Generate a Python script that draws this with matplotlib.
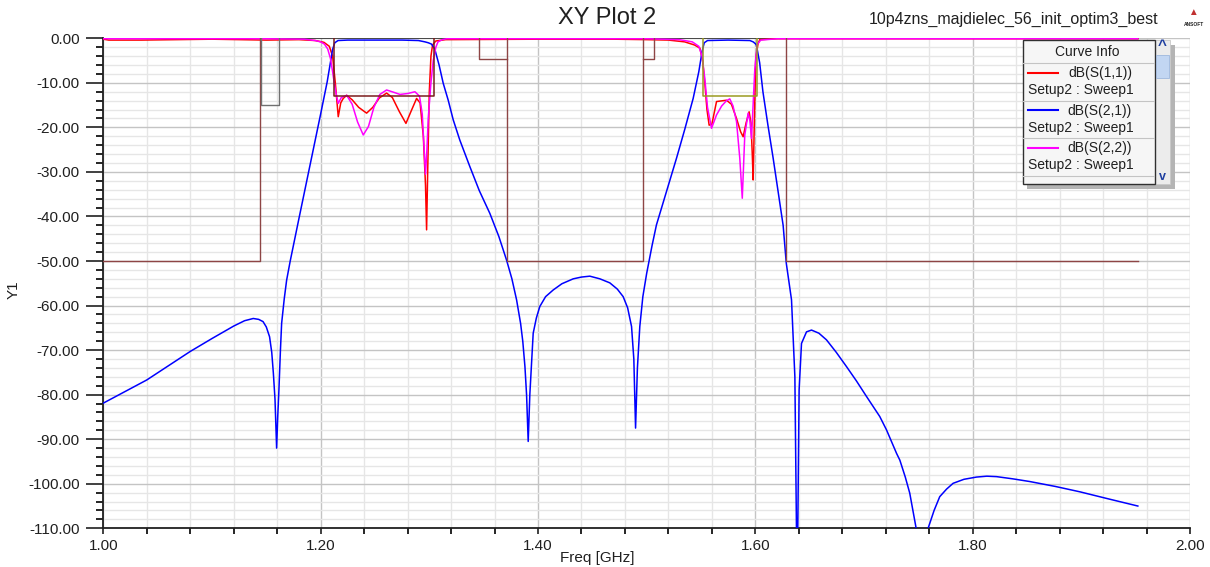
import matplotlib
matplotlib.use("Agg")
import matplotlib.pyplot as plt
from matplotlib.patches import Rectangle
from matplotlib.lines import Line2D
from matplotlib.ticker import MultipleLocator, FormatStrFormatter

plt.rcParams['font.family'] = ['Liberation Sans', 'DejaVu Sans']

# ---- data (freq in GHz, level in dB) ----
s21_f = [1.000, 1.020, 1.040, 1.060, 1.080, 1.100, 1.120, 1.130, 1.138, 1.143,
         1.147, 1.150, 1.153, 1.155, 1.1565, 1.158, 1.1595, 1.1605, 1.1616, 1.163,
         1.1641, 1.1665, 1.1687, 1.172, 1.180, 1.190, 1.200, 1.206, 1.209, 1.211,
         1.213, 1.216, 1.225, 1.250, 1.275, 1.290, 1.296, 1.299, 1.302, 1.305,
         1.309, 1.3128, 1.3174, 1.322, 1.328, 1.3373, 1.346, 1.3557, 1.364, 1.3711,
         1.376, 1.3803, 1.384, 1.386, 1.388, 1.3895, 1.391, 1.3925, 1.3945, 1.3956,
         1.3985, 1.4017, 1.407, 1.414, 1.422, 1.4324, 1.440, 1.4477, 1.457, 1.4661,
         1.473, 1.4784, 1.4825, 1.4861, 1.4882, 1.4898, 1.4915, 1.4937, 1.4965, 1.500,
         1.505, 1.509, 1.5122, 1.518, 1.5275, 1.535, 1.5428, 1.548, 1.551, 1.553,
         1.556, 1.575, 1.595, 1.598, 1.600, 1.601, 1.604, 1.607, 1.6116, 1.6164,
         1.621, 1.6256, 1.6285, 1.6333, 1.6364, 1.6385, 1.6403, 1.6425, 1.6471, 1.6517,
         1.6585, 1.6655, 1.6745, 1.6839, 1.693, 1.7023, 1.7145, 1.7207, 1.730, 1.733,
         1.738, 1.7421, 1.7477, 1.7535, 1.759, 1.7645, 1.7697, 1.776, 1.782, 1.792,
         1.8035, 1.813, 1.822, 1.837, 1.8525, 1.876, 1.8985, 1.925, 1.952]
s21_db = [-81.9, -79.3, -76.7, -73.5, -70.3, -67.4, -64.6, -63.4, -62.9, -63.1,
          -63.6, -64.8, -67.0, -70.5, -75.2, -81.0, -92.0, -85.0, -79.0, -70.0,
          -64.0, -58.5, -54.3, -50.0, -40.5, -28.8, -17.0, -9.8, -5.5, -2.5,
          -1.0, -0.5, -0.4, -0.4, -0.4, -0.5, -0.8, -1.0, -1.3, -2.4,
          -6.0, -10.1, -13.9, -18.3, -22.8, -28.8, -34.2, -39.3, -44.5, -49.8,
          -54.0, -58.7, -64.0, -68.0, -73.7, -80.0, -90.5, -80.0, -71.0, -66.2,
          -62.8, -60.2, -58.0, -56.5, -55.1, -54.0, -53.6, -53.4, -54.0, -54.9,
          -56.3, -58.0, -60.5, -64.7, -72.0, -87.5, -74.0, -64.7, -58.0, -52.8,
          -46.5, -41.9, -39.3, -34.6, -26.9, -20.5, -13.5, -7.5, -3.0, -1.0,
          -0.5, -0.4, -0.5, -0.8, -1.2, -1.5, -5.5, -12.0, -19.5, -26.9,
          -34.5, -42.0, -50.5, -58.7, -76.0, -125.0, -78.9, -68.5, -65.9, -65.5,
          -66.2, -67.7, -70.5, -73.7, -76.9, -80.4, -84.9, -87.9, -93.2, -94.7,
          -98.5, -102.1, -109.6, -125.0, -110.0, -106.0, -102.9, -101.2, -99.9, -99.0,
          -98.5, -98.3, -98.4, -98.9, -99.5, -100.6, -101.8, -103.4, -105.0]

s11_f = [1.000, 1.005, 1.035, 1.100, 1.150, 1.180, 1.195, 1.203, 1.208, 1.211,
         1.2135, 1.2162, 1.2185, 1.2208, 1.2239, 1.229, 1.235, 1.2423, 1.248, 1.254,
         1.2607, 1.266, 1.2725, 1.2785, 1.283, 1.2883, 1.2915, 1.2945, 1.2965, 1.2975,
         1.2985, 1.300, 1.3015, 1.303, 1.306, 1.315, 1.400, 1.470, 1.500, 1.520,
         1.535, 1.544, 1.549, 1.5515, 1.5535, 1.5555, 1.5575, 1.560, 1.5643, 1.5735,
         1.578, 1.5827, 1.5865, 1.5888, 1.5915, 1.5943, 1.596, 1.5972, 1.598, 1.599,
         1.6004, 1.6025, 1.6041, 1.620, 1.952]
s11_db = [-0.2, -0.4, -0.4, -0.2, -0.4, -0.3, -0.5, -0.9, -1.8, -4.0,
          -10.0, -17.6, -14.5, -13.5, -12.8, -13.8, -15.5, -16.8, -15.5, -13.4,
          -12.3, -13.3, -16.5, -19.1, -16.5, -13.5, -14.5, -22.0, -33.0, -43.0,
          -30.0, -12.0, -4.0, -1.5, -0.6, -0.3, -0.2, -0.2, -0.3, -0.4,
          -0.8, -1.5, -2.2, -5.0, -10.0, -16.0, -19.5, -19.3, -14.2, -13.9,
          -14.8, -18.0, -21.0, -22.1, -19.0, -16.5, -19.0, -26.0, -31.8, -20.0,
          -4.5, -1.2, -0.3, -0.1, -0.1]

s22_f = [1.000, 1.150, 1.185, 1.195, 1.200, 1.2035, 1.2065, 1.209, 1.211, 1.213,
         1.2147, 1.2162, 1.219, 1.224, 1.229, 1.234, 1.2392, 1.244, 1.249, 1.2545,
         1.2607, 1.267, 1.273, 1.280, 1.2868, 1.291, 1.2935, 1.2955, 1.2965, 1.2978,
         1.299, 1.3015, 1.3036, 1.306, 1.308, 1.312, 1.316, 1.500, 1.530, 1.542,
         1.548, 1.551, 1.5535, 1.556, 1.5597, 1.562, 1.5643, 1.569, 1.5735, 1.5765,
         1.5795, 1.5827, 1.5857, 1.588, 1.5903, 1.5934, 1.595, 1.5965, 1.5995, 1.6017,
         1.605, 1.620, 1.952]
s22_db = [-0.1, -0.1, -0.2, -0.5, -0.8, -1.3, -2.4, -4.5, -7.5, -10.8,
          -13.0, -14.6, -13.3, -12.8, -14.8, -18.8, -21.7, -19.8, -15.5, -12.6,
          -11.6, -12.1, -12.6, -12.4, -12.0, -13.0, -17.0, -26.0, -30.5, -25.0,
          -18.0, -10.0, -5.0, -2.0, -0.8, -0.3, -0.1, -0.1, -0.3, -0.8,
          -1.8, -4.0, -9.0, -15.5, -20.2, -18.7, -17.2, -15.2, -14.0, -13.6,
          -15.2, -18.7, -26.9, -35.9, -21.7, -16.8, -18.5, -22.5, -7.0, -1.4,
          -0.4, -0.1, -0.1]

# spec masks
mask_left_f = [1.000, 1.1444, 1.1444]
mask_left_db = [-50, -50, 0]
mask_mid_f = [1.3715, 1.3715, 1.4965, 1.4965]
mask_mid_db = [0, -50, -50, 0]
mask_right_f = [1.628, 1.628, 1.952]
mask_right_db = [0, -50, -50]
notch_a_f = [1.1455, 1.1455, 1.1615, 1.1615]
notch_a_db = [0, -15, -15, 0]
notch_b_f = [1.3455, 1.3455, 1.3715]
notch_b_db = [0, -4.6, -4.6]
notch_c_f = [1.4965, 1.5065, 1.5065]
notch_c_db = [-4.6, -4.6, 0]
pass1_f = [1.2125, 1.2125, 1.3045, 1.3045]
pass1_db = [0, -13, -13, 0]
pass2_f = [1.552, 1.552, 1.602, 1.602]
pass2_db = [0, -13, -13, 0]
top_f = [1.035, 1.952]
top_db = [0, 0]

curve_names = ['dB(S(1,1))', 'dB(S(2,1))', 'dB(S(2,2))']
curve_colors = ['#ff0000', '#0000ff', '#ff00ff']

W, H = 1210, 567
fig = plt.figure(figsize=(W / 100, H / 100), dpi=100)
ax = fig.add_axes([103.3 / W, 1 - 528.3 / H, (1190 - 103.3) / W, (528.3 - 38.3) / H])


def px(x, y):
    return x / W, 1 - y / H


# grid
ax.set_xlim(1.0, 2.0)
ax.set_ylim(-110, 0)
ax.xaxis.set_major_locator(MultipleLocator(0.2))
ax.xaxis.set_minor_locator(MultipleLocator(0.04))
ax.yaxis.set_major_locator(MultipleLocator(10))
ax.yaxis.set_minor_locator(MultipleLocator(2))
ax.xaxis.set_major_formatter(FormatStrFormatter('%.2f'))
ax.yaxis.set_major_formatter(FormatStrFormatter('%.2f'))
ax.grid(which='major', color='#c4c4c4', lw=1.0, zorder=0)
ax.grid(which='minor', color='#e6e6e6', lw=1.0, zorder=0)
ax.set_axisbelow(True)

for s in ['top', 'right']:
    ax.spines[s].set_visible(False)
for s in ['left', 'bottom']:
    ax.spines[s].set_linewidth(1.3)
    ax.spines[s].set_color('#202020')
ax.tick_params(axis='y', which='major', length=12, width=1.2, pad=5, labelsize=11, colors='#202020')
ax.tick_params(axis='y', which='minor', length=5, width=1.2)
ax.tick_params(axis='x', which='major', length=4, width=1.2, pad=4, labelsize=11, colors='#202020')
ax.tick_params(axis='x', which='minor', length=4, width=1.2)

# masks under the curves
ax.plot(top_f, top_db, color='#333333', lw=1.2, zorder=2)

# curves
ax.plot(s11_f, s11_db, color=curve_colors[0], lw=1.1, zorder=3)
ax.plot(s21_f, s21_db, color=curve_colors[1], lw=1.1, zorder=3)
ax.plot(s22_f, s22_db, color=curve_colors[2], lw=1.1, zorder=3)

brown = '#8e4545'
for mf, md in [(mask_left_f, mask_left_db), (mask_mid_f, mask_mid_db),
               (mask_right_f, mask_right_db), (notch_b_f, notch_b_db), (notch_c_f, notch_c_db)]:
    ax.plot(mf, md, color=brown, lw=1.0, zorder=4)
ax.plot(notch_a_f, notch_a_db, color='#707070', lw=1.0, zorder=4)
ax.plot(pass1_f, pass1_db, color='#7a1c1c', lw=1.1, zorder=4)
ax.plot(pass2_f, pass2_db, color='#9a9a20', lw=1.1, zorder=4)

# labels and titles
fig.text(*px(597, 558), 'Freq [GHz]', fontsize=11, ha='center', va='center', color='#202020')
fig.text(*px(14, 290), 'Y1', fontsize=11, rotation=90, ha='center', va='center', color='#202020')
fig.text(*px(607, 18), 'XY Plot 2', fontsize=17, ha='center', va='center', color='#202020')
fig.text(*px(1014, 19), '10p4zns_majdielec_56_init_optim3_best', fontsize=11.5,
         ha='center', va='center', color='#202020')
fig.text(*px(1193, 12), '\u25b2', fontsize=7, ha='center', va='center', color='#c03030')
fig.text(*px(1194, 24), 'ANSOFT', fontsize=3.5, ha='center', va='center',
         color='#202020', fontweight='bold')

# legend box ("Curve Info") drawn in figure pixels
def frect(x0, y0, x1, y1, **kw):
    fx, fy = px(x0, y1)
    r = Rectangle((fx, fy), (x1 - x0) / W, (y1 - y0) / H, transform=fig.transFigure, **kw)
    fig.add_artist(r)


def fline(xs, ys, **kw):
    fig.add_artist(Line2D([x / W for x in xs], [1 - y / H for y in ys],
                          transform=fig.transFigure, **kw))


frect(1027, 45, 1175, 189, facecolor='#b4b4b4', edgecolor='none', zorder=10)
frect(1155, 40, 1169.5, 184, facecolor='#ececec', edgecolor='#c8c8c8', lw=0.6, zorder=11)
frect(1156, 55, 1168.5, 78, facecolor='#c2d6f2', edgecolor='#9fb8dc', lw=0.6, zorder=12)
fig.text(*px(1162, 46), '^', fontsize=11, fontweight='bold', ha='center', va='center',
         color='#1f3fa0', zorder=13)
fig.text(*px(1162, 177), 'v', fontsize=9, fontweight='bold', ha='center', va='center',
         color='#1f3fa0', zorder=13)
frect(1022.5, 40, 1154.5, 184, facecolor='#f6f6f6', edgecolor='#303030', lw=1.0, zorder=11)
fig.text(*px(1087, 51.5), 'Curve Info', fontsize=10, ha='center', va='center',
         color='#202020', zorder=12)
fline([1023, 1154], [62.7, 62.7], color='#c4c4c4', lw=0.8, zorder=12)
for i, (name, col) in enumerate(zip(curve_names, curve_colors)):
    dy = 37.7 * i
    fline([1028, 1058], [72.7 + dy, 72.7 + dy], color=col, lw=1.5, zorder=12)
    fig.text(*px(1132, 73 + dy), name, fontsize=10, ha='right', va='center',
             color='#202020', zorder=12)
    fig.text(*px(1028, 90 + dy), 'Setup2 : Sweep1', fontsize=10, ha='left', va='center',
             color='#202020', zorder=12)
    fline([1023, 1154], [100.7 + dy, 100.7 + dy], color='#c4c4c4', lw=0.8, zorder=12)

fig.savefig('out.png', dpi=100)
